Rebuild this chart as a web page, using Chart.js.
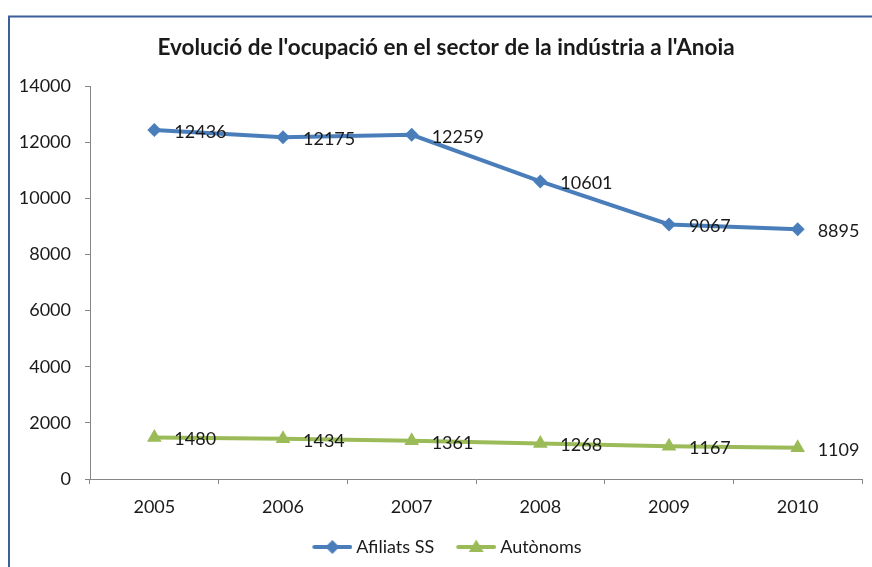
<!DOCTYPE html>
<html>
<head>
<meta charset="utf-8">
<script src="https://cdn.jsdelivr.net/npm/chart.js@4.4.1/dist/chart.umd.min.js"></script>
<style>
  html, body { margin: 0; padding: 0; background: #ffffff; }
  #wrap { width: 872px; height: 567px; position: relative; }
</style>
</head>
<body>
<div id="wrap"><canvas id="c" width="872" height="567"></canvas></div>
<script>
const years = ['2005', '2006', '2007', '2008', '2009', '2010'];
const afiliatsSS = [12436, 12175, 12259, 10601, 9067, 8895];
const autonoms = [1480, 1434, 1361, 1268, 1167, 1109];
const yTicks = [0, 2000, 4000, 6000, 8000, 10000, 12000, 14000];
const titleText = "Evolució de l'ocupació en el sector de la indústria a l'Anoia";
const seriesNames = ['Afiliats SS', 'Autònoms'];

const BLUE = '#4a7ebb';
const GREEN = '#9bbb59';
const FONT = 'Lato, "Open Sans", sans-serif';

// legend icon: transparent lead-in, then line with marker
function legendIcon(color, style) {
  const cv = document.createElement('canvas');
  cv.width = 47; cv.height = 18;
  const g = cv.getContext('2d');
  g.strokeStyle = color; g.lineWidth = 4; g.lineCap = 'round';
  g.beginPath(); g.moveTo(9, 9); g.lineTo(45, 9); g.stroke();
  g.fillStyle = color;
  g.beginPath();
  const cx = 27;
  if (style === 'rectRot') {
    g.moveTo(cx, 2); g.lineTo(cx + 7, 9); g.lineTo(cx, 16); g.lineTo(cx - 7, 9);
  } else {
    g.moveTo(cx, 1.5); g.lineTo(cx + 7.5, 14); g.lineTo(cx - 7.5, 14);
  }
  g.closePath(); g.fill();
  return cv;
}

const borderPlugin = {
  id: 'frame',
  beforeDraw(chart) {
    const ctx = chart.ctx;
    ctx.save();
    ctx.strokeStyle = '#3a5f9a';
    ctx.lineWidth = 2;
    ctx.strokeRect(9, 16.5, 900, 600);
    ctx.restore();
  }
};

// shift title / legend boxes so they are centred like the reference frame
const shiftPlugin = {
  id: 'shiftBlocks',
  afterLayout(chart) {
    if (chart.titleBlock) { chart.titleBlock.left += 7; chart.titleBlock.right += 7; }
    if (chart.legend) { chart.legend.left += 7; chart.legend.right += 7; }
  }
};

const valueLabels = {
  id: 'valueLabels',
  afterDatasetsDraw(chart) {
    const ctx = chart.ctx;
    ctx.save();
    ctx.font = '18px ' + FONT;
    ctx.fillStyle = '#1a1a1a';
    ctx.textAlign = 'left';
    ctx.textBaseline = 'middle';
    chart.data.datasets.forEach((ds, i) => {
      const meta = chart.getDatasetMeta(i);
      meta.data.forEach((pt, j) => {
        ctx.fillText(String(ds.data[j]), pt.x + 20, pt.y + 2);
      });
    });
    ctx.restore();
  }
};

new Chart(document.getElementById('c'), {
  type: 'line',
  data: {
    labels: years,
    datasets: [
      {
        label: seriesNames[0], data: afiliatsSS,
        borderColor: BLUE, backgroundColor: BLUE, borderWidth: 4,
        pointStyle: 'rectRot', pointRadius: 7, pointHoverRadius: 7,
        pointBackgroundColor: BLUE, pointBorderColor: BLUE, pointBorderWidth: 0,
        tension: 0, _icon: 'rectRot'
      },
      {
        label: seriesNames[1], data: autonoms,
        borderColor: GREEN, backgroundColor: GREEN, borderWidth: 4,
        pointStyle: 'triangle', pointRadius: 8.5, pointHoverRadius: 8.5,
        pointBackgroundColor: GREEN, pointBorderColor: GREEN, pointBorderWidth: 0,
        tension: 0, _icon: 'triangle'
      }
    ]
  },
  options: {
    responsive: false,
    animation: false,
    devicePixelRatio: 1,
    layout: { padding: { left: 16, right: 10, top: 0, bottom: 1 } },
    plugins: {
      tooltip: { enabled: false },
      title: {
        display: true, text: titleText, color: '#1a1a1a',
        font: { family: FONT, size: 22.5, weight: 'bold' },
        padding: { top: 34, bottom: 25 }
      },
      legend: {
        position: 'bottom',
        labels: {
          usePointStyle: true, pointStyleWidth: 37,
          padding: 20,
          font: { family: FONT, size: 18 }, color: '#1a1a1a',
          generateLabels(chart) {
            return chart.data.datasets.map((ds, i) => ({
              text: ds.label, datasetIndex: i,
              pointStyle: legendIcon(ds.borderColor, ds._icon),
              fillStyle: ds.borderColor, strokeStyle: ds.borderColor,
              lineWidth: 0, hidden: false, fontColor: '#1a1a1a'
            }));
          }
        }
      }
    },
    scales: {
      x: {
        type: 'category', offset: true,
        afterFit(scale) { scale.height = 39; },
        grid: { display: true, offset: true, drawOnChartArea: false, drawTicks: true, tickLength: 5, color: '#868686' },
        border: { display: true, color: '#868686', width: 1 },
        ticks: { color: '#1a1a1a', font: { family: FONT, size: 18 }, padding: 12, maxRotation: 0 }
      },
      y: {
        min: 0, max: 14000,
        afterBuildTicks(scale) { scale.ticks = yTicks.map(v => ({ value: v })); },
        afterFit(scale) { scale.width = 74; },
        grid: { display: true, drawOnChartArea: false, drawTicks: true, tickLength: 5, color: '#868686' },
        border: { display: true, color: '#868686', width: 1 },
        ticks: { color: '#1a1a1a', font: { family: FONT, size: 18 }, padding: 14, callback: v => String(v) }
      }
    }
  },
  plugins: [borderPlugin, shiftPlugin, valueLabels]
});
</script>
</body>
</html>
